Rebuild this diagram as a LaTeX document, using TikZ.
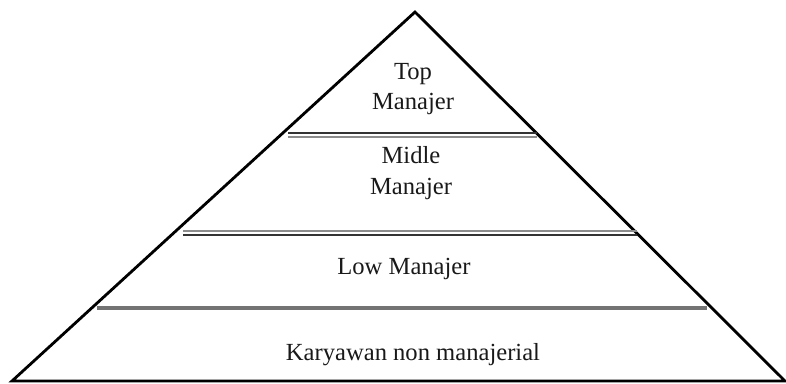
\documentclass[tikz,border=0pt]{standalone}
\usepackage{fontspec}
\setmainfont{Liberation Serif}
\begin{document}
\begin{tikzpicture}[x=0.02cm, y=-0.02cm,
  level/.style={align=center, text=black!90, font=\fontsize{14}{17.5}\selectfont},
  darkrule/.style={line width=0.9pt, black!80},
  lightrule/.style={line width=0.9pt, black!45}]
\useasboundingbox (0,0) rectangle (786,383);

% Pyramid outline
\coordinate (apex) at (415,12);
\coordinate (bl) at (12,381);
\coordinate (br) at (785,381);
\draw[line width=1.6pt] (bl) -- (apex) -- (br) -- cycle;

% Level dividers
\draw[darkrule] (288,133) -- (537,133);
\draw[lightrule] (288,137) -- (537,137);

\draw[lightrule] (183,231) -- (637,231);
\draw[darkrule] (183,235) -- (637,235);

\draw[line width=2.2pt, black!55] (97,308) -- (707,308);

% Levels
\node[level] (top) at (413,89) {Top\\Manajer};
\node[level] (midle) at (411,173) {Midle\\Manajer};
\node[level] (low) at (404,269) {Low Manajer};
\node[level] (staff) at (413,355) {Karyawan non manajerial};

\end{tikzpicture}
\end{document}
